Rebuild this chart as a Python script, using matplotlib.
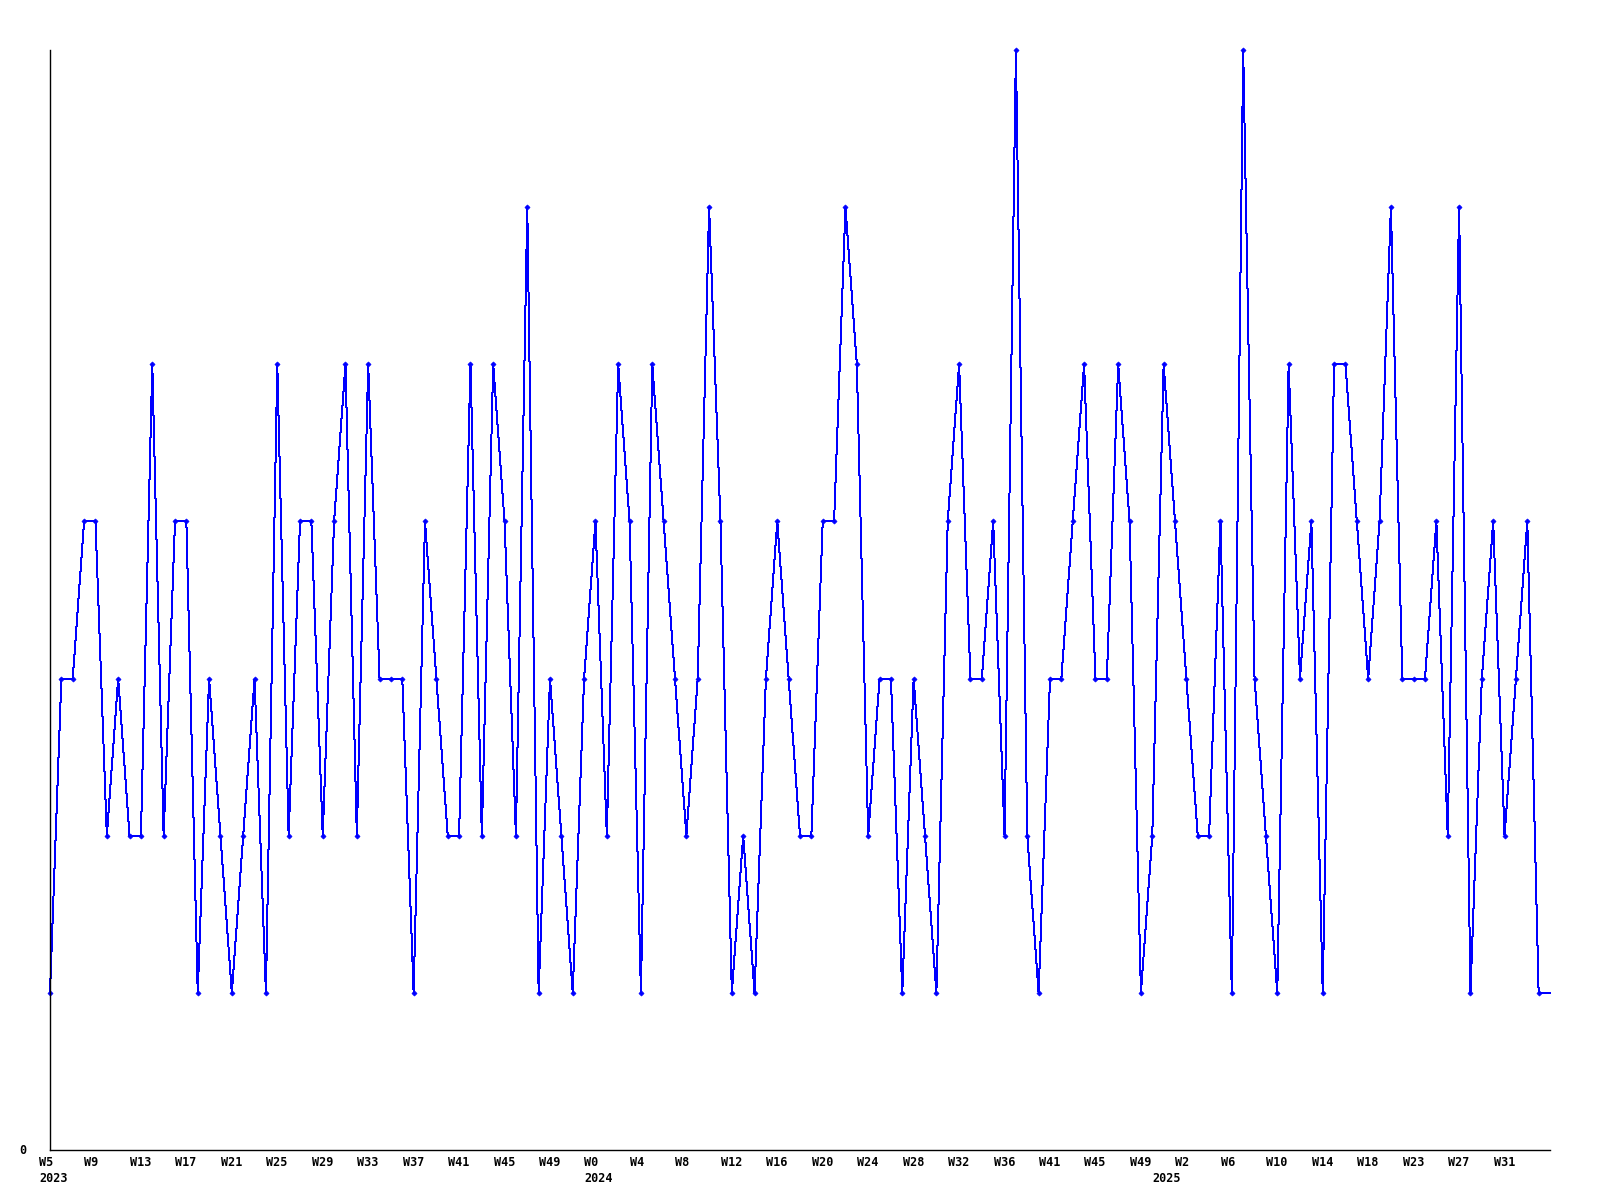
import matplotlib
matplotlib.use("Agg")
import matplotlib.pyplot as plt
import matplotlib.transforms as mtransforms

values = [1, 3, 3, 4, 4, 2, 3, 2, 2, 5, 2, 4, 4, 1, 3, 2, 1, 2, 3, 1,
          5, 2, 4, 4, 2, 4, 5, 2, 5, 3, 3, 3, 1, 4, 3, 2, 2, 5, 2, 5,
          4, 2, 6, 1, 3, 2, 1, 3, 4, 2, 5, 4, 1, 5, 4, 3, 2, 3, 6, 4,
          1, 2, 1, 3, 4, 3, 2, 2, 4, 4, 6, 5, 2, 3, 3, 1, 3, 2, 1, 4,
          5, 3, 3, 4, 2, 7, 2, 1, 3, 3, 4, 5, 3, 3, 5, 4, 1, 2, 5, 4,
          3, 2, 2, 4, 1, 7, 3, 2, 1, 5, 3, 4, 1, 5, 5, 4, 3, 4, 6, 3,
          3, 3, 4, 2, 6, 1, 3, 4, 2, 3, 4, 1, 1]

week_labels = ["W5", "W9", "W13", "W17", "W21", "W25", "W29", "W33", "W37",
               "W41", "W45", "W49", "W0", "W4", "W8", "W12", "W16", "W20",
               "W24", "W28", "W32", "W36", "W41", "W45", "W49", "W2", "W6",
               "W10", "W14", "W18", "W23", "W27", "W31"]
label_step = 4
year_labels = ["2023", "2024", "2025"]
year_start_index = [0, 48, 98]

fig = plt.figure(figsize=(16, 12), dpi=100)
ax = fig.add_axes([50 / 1600, 50 / 1200, 1500 / 1600, 1100 / 1200])

x = list(range(len(values)))
ax.plot(x, values, color=(0, 0, 1), linewidth=0.72, antialiased=False,
        marker="D", markersize=2.6, markevery=list(range(len(values) - 1)),
        markerfacecolor=(0, 0, 1), markeredgecolor=(0, 0, 1),
        markeredgewidth=0.5, clip_on=False)

ax.set_xlim(0, len(values) - 1)
ax.set_ylim(0, 7)

for s in ["top", "right"]:
    ax.spines[s].set_visible(False)
for s in ["left", "bottom"]:
    ax.spines[s].set_linewidth(1.0)
    ax.spines[s].set_color("black")

font = dict(fontfamily="DejaVu Sans Mono", fontweight="bold", fontsize=8.5)

ax.set_xticks([])
ax.set_yticks([0])
ax.set_yticklabels(["0"], **font)
ax.tick_params(axis="y", length=0, pad=17)
for t in ax.get_yticklabels():
    t.set_va("center")

trans = mtransforms.blended_transform_factory(ax.transData, ax.transAxes)
week_off = mtransforms.ScaledTranslation(-11 / 100, -13 / 100, fig.dpi_scale_trans)
year_off = mtransforms.ScaledTranslation(-11 / 100, -29 / 100, fig.dpi_scale_trans)
for i, lab in enumerate(week_labels):
    ax.text(i * label_step, 0, lab, transform=trans + week_off,
            ha="left", va="center", clip_on=False, **font)
for xi, lab in zip(year_start_index, year_labels):
    ax.text(xi, 0, lab, transform=trans + year_off,
            ha="left", va="center", clip_on=False, **font)

fig.savefig("out.png", dpi=100, facecolor="white")
